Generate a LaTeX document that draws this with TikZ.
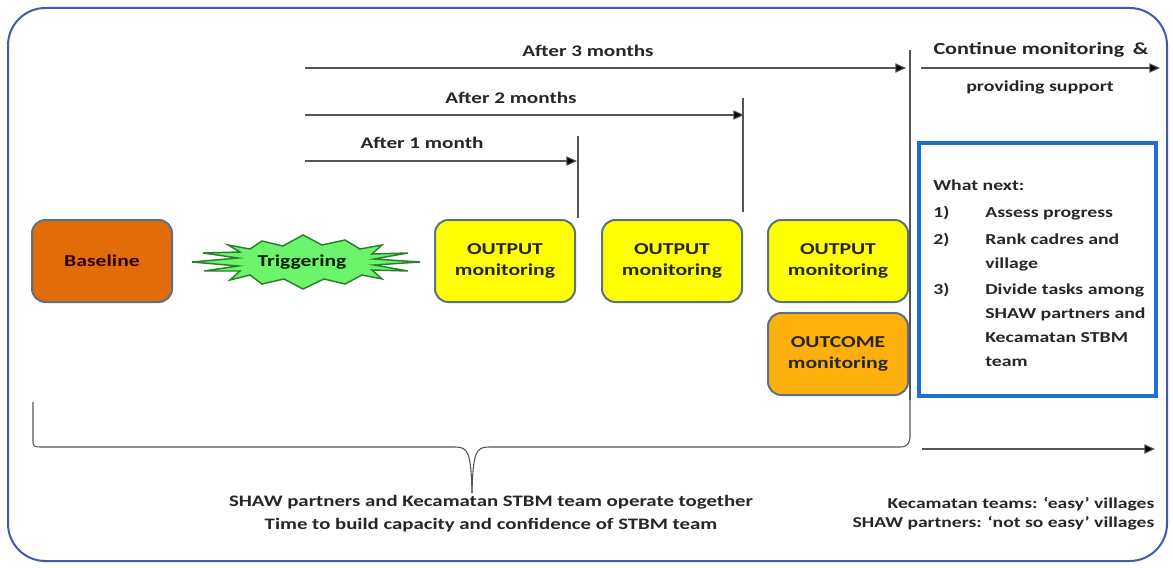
\documentclass[tikz,border=0pt]{standalone}
\usepackage{fontspec}
\setmainfont{Carlito}[FakeStretch=1.3]
\usetikzlibrary{arrows.meta}
\definecolor{frameblue}{HTML}{3F5BA9}
\definecolor{boxblue}{HTML}{1E6FD0}
\definecolor{baseorange}{HTML}{E36C0A}
\definecolor{outyellow}{HTML}{FFFF00}
\definecolor{outcomeorange}{HTML}{FDB00C}
\definecolor{trigfill}{HTML}{6CF56C}
\definecolor{trigdraw}{HTML}{2A7F2A}
\definecolor{nodeedge}{HTML}{5B7186}
\definecolor{linegray}{HTML}{555555}
\tikzset{
  monbox/.style={draw=nodeedge, line width=1.5pt, rounded corners=10pt, minimum width=105pt, minimum height=61.5pt, align=center, font=\bfseries\fontsize{12.5}{15.5}\selectfont, text=black!85},
  tline/.style={draw=linegray, line width=0.8pt},
  tarrow/.style={draw=linegray, line width=0.8pt, -{Triangle[length=8pt,width=7pt,fill=black]}},
  lbl/.style={font=\bfseries\fontsize{12.2}{14}\selectfont, text=black!85},
}
\begin{document}
\begin{tikzpicture}[x=0.75pt,y=-0.75pt]
\useasboundingbox (0,0) rectangle (1173,567);
% outer frame
\draw[frameblue, line width=1.5pt, rounded corners=28pt] (8,8) rectangle (1167,561);
% time arrows
\coordinate (a3s) at (305,68); \coordinate (a3e) at (906,68);
\coordinate (a2s) at (305,115); \coordinate (a2e) at (744,115);
\coordinate (a1s) at (305,161); \coordinate (a1e) at (577,161);
\draw[tarrow] (a3s) -- (a3e);
\draw[tarrow] (a2s) -- (a2e);
\draw[tarrow] (a1s) -- (a1e);
\node[lbl] (l3) at (588,51) {After 3 months};
\node[lbl] (l2) at (511,98) {After 2 months};
\node[lbl] (l1) at (422,143) {After 1 month};
\coordinate (c1) at (921,68); \coordinate (c2) at (1160,68);
\draw[tarrow] (c1) -- (c2);
\node[lbl, font=\bfseries\fontsize{12.8}{14}\selectfont] (cont1) at (1041,50) {Continue monitoring\hspace{0.5em}\&};
\node[lbl, font=\bfseries\fontsize{11.5}{14}\selectfont] (cont2) at (1040,87) {providing support};
% vertical tick lines
\coordinate (v1t) at (578,136); \coordinate (v1b) at (578,218);
\coordinate (v2t) at (743,98); \coordinate (v2b) at (743,212);
\coordinate (v3t) at (910,50); \coordinate (v3b) at (910,400);
\draw[tline] (v1t) -- (v1b);
\draw[tline] (v2t) -- (v2b);
\draw[tline] (v3t) -- (v3b);
% nodes
\node[monbox, fill=baseorange, text=black!75!red!70!black] (base) at (102,261) {Baseline};
\draw[trigdraw, line width=1.1pt, fill=trigfill, line join=miter]
 (192,262) -- (238,258) -- (203,253) -- (240,252) -- (228,245) -- (250,249) -- (262,241) -- (283,246) -- (303,235)
 -- (322,245) -- (345,240) -- (360,249) -- (382,245) -- (372,254) -- (408,253) -- (374,259) -- (420,262)
 -- (374,265) -- (408,271) -- (372,270) -- (382,279) -- (362,275) -- (345,284) -- (324,279) -- (303,289)
 -- (284,279) -- (262,284) -- (250,275) -- (230,280) -- (240,271) -- (204,271) -- (238,266) -- cycle;
\node[font=\bfseries\fontsize{12.5}{15}\selectfont, text=black!80!green!60!black] (trig) at (302,262) {Triggering};
\node[monbox, fill=outyellow] (out1) at (505,261) {OUTPUT\\monitoring};
\node[monbox, fill=outyellow] (out2) at (672,261) {OUTPUT\\monitoring};
\node[monbox, fill=outyellow] (out3) at (838,261) {OUTPUT\\monitoring};
\node[monbox, fill=outcomeorange] (outc) at (838,354) {OUTCOME\\monitoring};
% what next box
\draw[boxblue, line width=2.4pt] (919,143) rectangle (1156,396);
\node[anchor=north west, align=left, font=\bfseries\fontsize{11.4}{18}\selectfont, text=black!85, inner sep=0pt] (wn) at (933,180) {What next:\\[2pt]
\makebox[39pt][l]{1)}Assess progress\\[2pt]
\makebox[39pt][l]{2)}Rank cadres and\\
\hspace*{39pt}village\\[2pt]
\makebox[39pt][l]{3)}Divide tasks among\\
\hspace*{39pt}SHAW partners and\\
\hspace*{39pt}Kecamatan STBM\\
\hspace*{39pt}team};
% bracket
\draw[tline] (33,402) -- (33,442) .. controls (33,446) and (35,447) .. (40,447) -- (455,447) .. controls (468,447) and (471,452) .. (472,493);
\draw[tline] (472,493) .. controls (473,452) and (476,447) .. (489,447) -- (900,447) .. controls (907,447) and (909,444) .. (910,438) -- (910,400);
\coordinate (b1) at (922,449); \coordinate (b2) at (1155,449);
\draw[tarrow] (b1) -- (b2);
\node[font=\bfseries\fontsize{12}{17.3}\selectfont, text=black!85, align=center] (bt) at (491,514) {SHAW partners and Kecamatan STBM team operate together\\Time to build capacity and confidence of STBM team};
\node[font=\bfseries\fontsize{11.3}{14}\selectfont, text=black!85, align=right, anchor=east] (rt) at (1159,514) {Kecamatan teams: ‘easy’ villages\\SHAW partners: ‘not so easy’ villages};
\end{tikzpicture}
\end{document}
